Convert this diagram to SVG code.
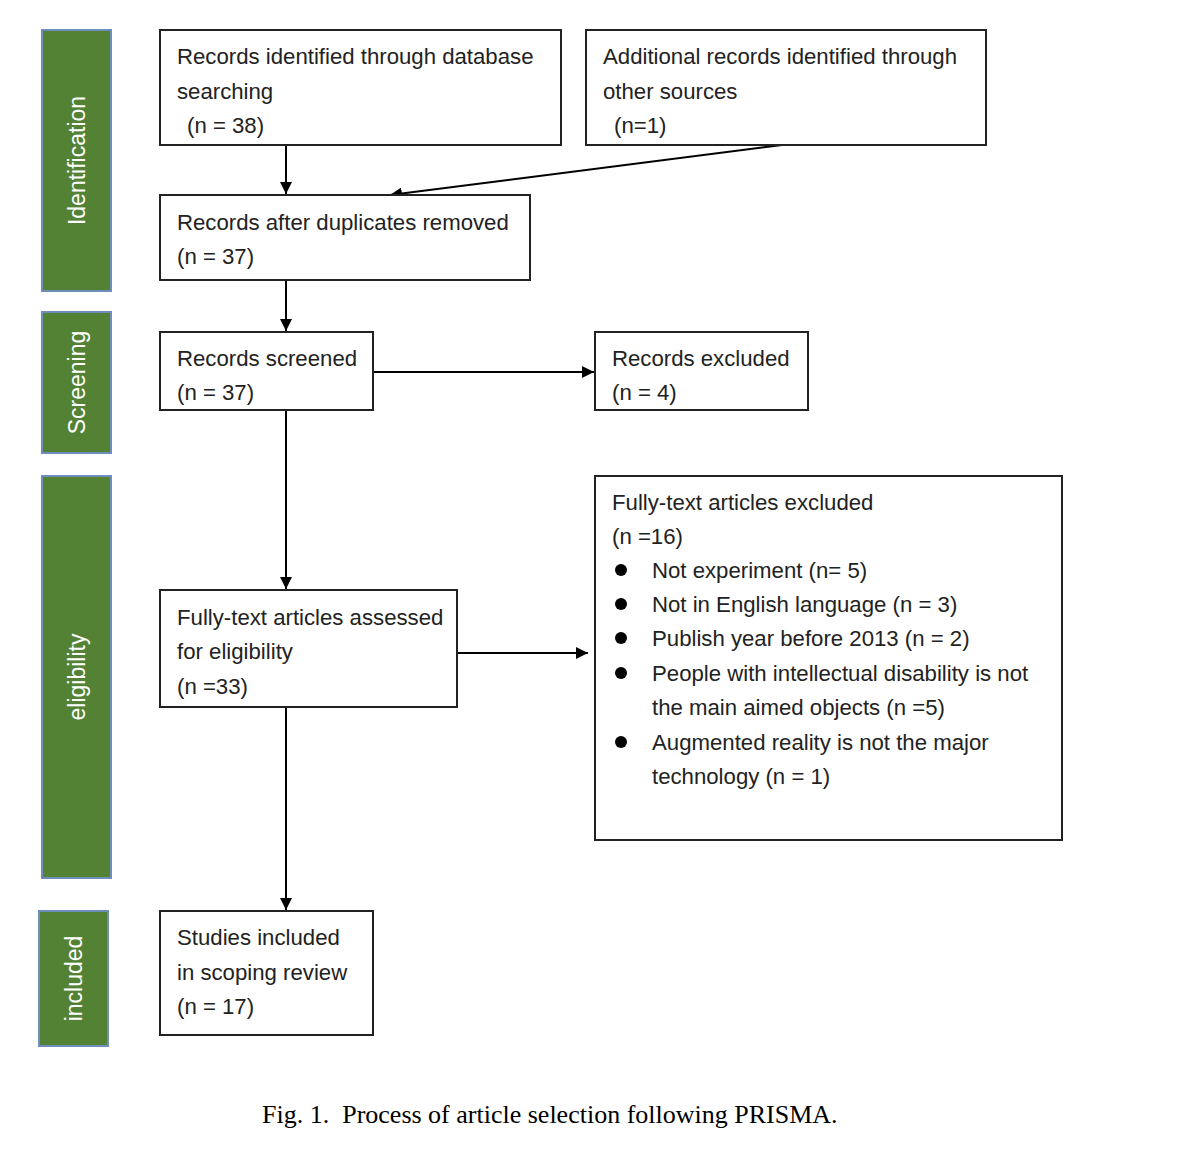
<svg xmlns="http://www.w3.org/2000/svg" width="1200" height="1156" viewBox="0 0 1200 1156">
<style>
.bar{fill:#548235;stroke:#6e8fbd;stroke-width:2}
.bl{fill:#ffffff;font-family:"Liberation Sans",Arial,sans-serif;font-size:23px}
.box{fill:#ffffff;stroke:#222222;stroke-width:2}
.t{fill:#222222;font-family:"Liberation Sans",Arial,sans-serif;font-size:22.2px}
.c{stroke:#000000;stroke-width:2;fill:none}
.cap{fill:#000000;font-family:"Liberation Serif","Times New Roman",serif;font-size:26px}
</style>
<defs>
<marker id="ah" viewBox="0 0 10 10" refX="10" refY="5" markerWidth="6" markerHeight="6" orient="auto" markerUnits="strokeWidth">
<path d="M0,0 L10,5 L0,10 z" fill="#000000"/>
</marker>
</defs>
<rect width="1200" height="1156" fill="#ffffff"/>

<g id="stage-identification">
<rect class="bar" x="42" y="30" width="69" height="261"/>
<text class="bl" transform="translate(85,160.5) rotate(-90)" text-anchor="middle">Identification</text>
</g>
<g id="stage-screening">
<rect class="bar" x="42" y="312" width="69" height="141"/>
<text class="bl" transform="translate(85,382.5) rotate(-90)" text-anchor="middle">Screening</text>
</g>
<g id="stage-eligibility">
<rect class="bar" x="42" y="476" width="69" height="402"/>
<text class="bl" transform="translate(85,677) rotate(-90)" text-anchor="middle">eligibility</text>
</g>
<g id="stage-included">
<rect class="bar" x="39" y="911" width="69" height="135"/>
<text class="bl" transform="translate(82,978.5) rotate(-90)" text-anchor="middle">included</text>
</g>

<g id="connectors">
<line class="c" x1="286" y1="145" x2="286" y2="194" marker-end="url(#ah)"/>
<line class="c" x1="782" y1="145" x2="390" y2="195" marker-end="url(#ah)"/>
<line class="c" x1="286" y1="280" x2="286" y2="331" marker-end="url(#ah)"/>
<line class="c" x1="373" y1="372" x2="594" y2="372" marker-end="url(#ah)"/>
<line class="c" x1="286" y1="410" x2="286" y2="589" marker-end="url(#ah)"/>
<line class="c" x1="457" y1="653" x2="588" y2="653" marker-end="url(#ah)"/>
<line class="c" x1="286" y1="707" x2="286" y2="910" marker-end="url(#ah)"/>
</g>

<g id="records-identified">
<rect class="box" x="160" y="30" width="401" height="115"/>
<text class="t" x="177" y="64">Records identified through database</text>
<text class="t" x="177" y="99">searching</text>
<text class="t" x="187" y="133">(n = 38)</text>
</g>
<g id="additional-records">
<rect class="box" x="586" y="30" width="400" height="115"/>
<text class="t" x="603" y="64">Additional records identified through</text>
<text class="t" x="603" y="99">other sources</text>
<text class="t" x="614" y="133">(n=1)</text>
</g>
<g id="after-duplicates">
<rect class="box" x="160" y="195" width="370" height="85"/>
<text class="t" x="177" y="230">Records after duplicates removed</text>
<text class="t" x="177" y="264">(n = 37)</text>
</g>
<g id="records-screened">
<rect class="box" x="160" y="332" width="213" height="78"/>
<text class="t" x="177" y="366">Records screened</text>
<text class="t" x="177" y="400">(n = 37)</text>
</g>
<g id="records-excluded">
<rect class="box" x="595" y="332" width="213" height="78"/>
<text class="t" x="612" y="366">Records excluded</text>
<text class="t" x="612" y="400">(n = 4)</text>
</g>
<g id="fulltext-assessed">
<rect class="box" x="160" y="590" width="297" height="117"/>
<text class="t" x="177" y="625">Fully-text articles assessed</text>
<text class="t" x="177" y="659">for eligibility</text>
<text class="t" x="177" y="694">(n =33)</text>
</g>
<g id="fulltext-excluded">
<rect class="box" x="595" y="476" width="467" height="364"/>
<text class="t" x="612" y="510">Fully-text articles excluded</text>
<text class="t" x="612" y="544">(n =16)</text>
<circle cx="621" cy="570" r="6" fill="#000000"/>
<text class="t" x="652" y="578">Not experiment (n= 5)</text>
<circle cx="621" cy="604" r="6" fill="#000000"/>
<text class="t" x="652" y="612">Not in English language (n = 3)</text>
<circle cx="621" cy="638" r="6" fill="#000000"/>
<text class="t" x="652" y="646">Publish year before 2013 (n = 2)</text>
<circle cx="621" cy="673" r="6" fill="#000000"/>
<text class="t" x="652" y="681">People with intellectual disability is not</text>
<text class="t" x="652" y="715">the main aimed objects (n =5)</text>
<circle cx="621" cy="742" r="6" fill="#000000"/>
<text class="t" x="652" y="750">Augmented reality is not the major</text>
<text class="t" x="652" y="784">technology (n = 1)</text>
</g>
<g id="studies-included">
<rect class="box" x="160" y="911" width="213" height="124"/>
<text class="t" x="177" y="945">Studies included</text>
<text class="t" x="177" y="980">in scoping review</text>
<text class="t" x="177" y="1014">(n = 17)</text>
</g>

<text class="cap" x="262" y="1123" xml:space="preserve">Fig. 1.  Process of article selection following PRISMA.</text>
</svg>
